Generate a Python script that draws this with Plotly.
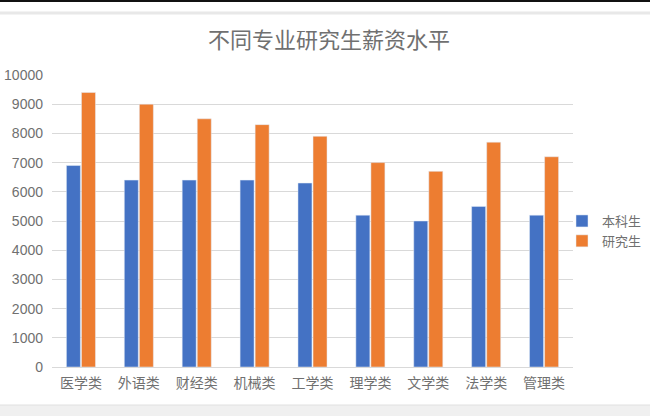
import plotly.graph_objects as go

categories = ["医学类", "外语类", "财经类", "机械类", "工学类", "理学类", "文学类", "法学类", "管理类"]
undergrad = [6900, 6400, 6400, 6400, 6300, 5200, 5000, 5500, 5200]
graduate = [9400, 9000, 8500, 8300, 7900, 7000, 6700, 7700, 7200]
y_ticks = [0, 1000, 2000, 3000, 4000, 5000, 6000, 7000, 8000, 9000, 10000]
y_tick_text = [str(v) for v in y_ticks]

font_cjk = "Noto Sans CJK SC"
gray = "#707070"

fig = go.Figure()
fig.add_trace(go.Bar(name="本科生", x=categories, y=undergrad, marker_color="#4472C4"))
fig.add_trace(go.Bar(name="研究生", x=categories, y=graduate, marker_color="#ED7D31"))

L, T, B, W, H = 52, 75, 49, 650, 416
R = 650 - 573
pw = W - L - R
ph = H - T - B

def px_x(X):
    return (X - L) / pw

def px_y(Y):
    return (H - B - Y) / ph

shapes = [
    dict(type="rect", xref="paper", yref="paper", x0=px_x(0), x1=px_x(650), y0=px_y(2), y1=px_y(0),
         fillcolor="#111111", line_width=0, layer="above"),
    dict(type="rect", xref="paper", yref="paper", x0=px_x(0), x1=px_x(650), y0=px_y(14.5), y1=px_y(11.5),
         fillcolor="#e8e8e8", line_width=0, layer="above"),
    dict(type="rect", xref="paper", yref="paper", x0=px_x(0), x1=px_x(650), y0=px_y(416), y1=px_y(405),
         fillcolor="#f0f0f0", line_width=0, layer="above"),
    dict(type="line", xref="paper", yref="paper", x0=px_x(0), x1=px_x(650), y0=px_y(405), y1=px_y(405),
         line=dict(color="#e0e0e0", width=1), layer="above"),
]

fig.update_layout(
    width=W, height=H,
    margin=dict(l=L, r=R, t=T, b=B, autoexpand=False),
    paper_bgcolor="white", plot_bgcolor="white",
    barmode="group", bargap=0.48, bargroupgap=0.07,
    title=dict(text="不同专业研究生薪资水平", x=329 / W, xanchor="center",
               y=1 - 40 / H, yanchor="middle",
               font=dict(family=font_cjk, size=22, color=gray)),
    font=dict(family=font_cjk, color=gray),
    xaxis=dict(showgrid=False, showline=True, linecolor="#d9d9d9", linewidth=1,
               tickfont=dict(family=font_cjk, size=14, color=gray), ticks="",
               ticklabelstandoff=3, automargin=False),
    yaxis=dict(range=[0, 10000], tickvals=y_ticks, ticktext=y_tick_text, showgrid=True,
               gridcolor="#d9d9d9", gridwidth=1, zeroline=False, ticks="",
               ticklabelstandoff=8, automargin=False,
               tickfont=dict(family="Liberation Sans", size=14, color=gray)),
    legend=dict(x=px_x(562), xanchor="left", y=px_y(231), yanchor="middle",
                font=dict(family=font_cjk, size=13, color=gray), tracegroupgap=4,
                bgcolor="rgba(0,0,0,0)"),
    shapes=shapes,
)

fig.write_html("out.html")
